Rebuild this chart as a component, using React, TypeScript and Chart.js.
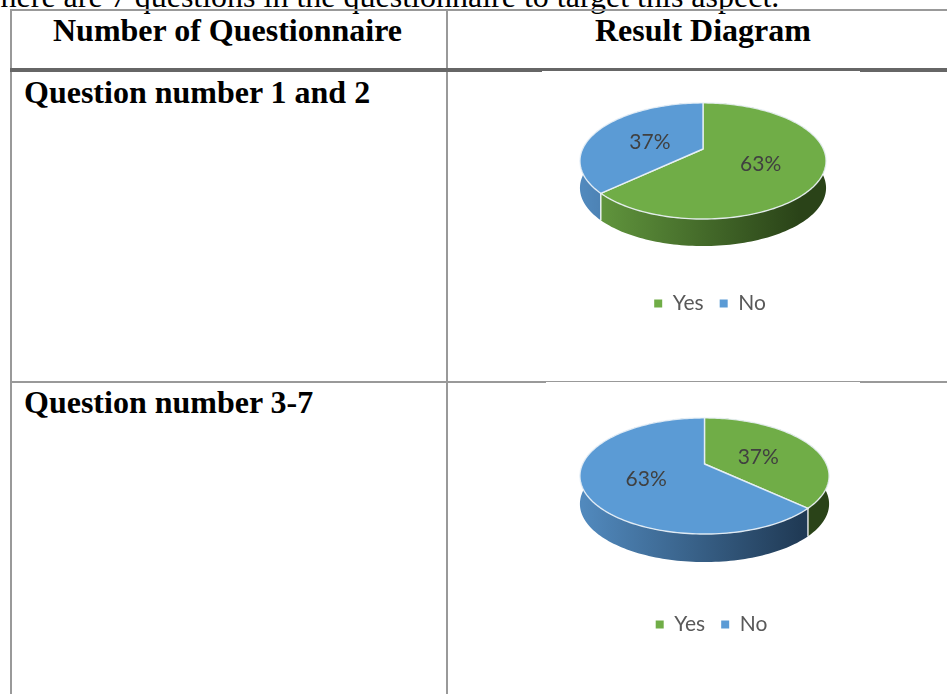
import React, { useEffect, useRef } from "react";
import { Chart, registerables } from "chart.js";

Chart.register(...registerables);

const categories = ["Yes", "No"];
const firstRowValues = [63, 37];
const secondRowValues = [37, 63];
const sliceColors = ["#70AD47", "#5B9BD5"];
const sideLight = ["#659C40", "#5189BD"];
const sideDark = ["#2A4318", "#203A55"];
const introText = "There are 7 questions in the questionnaire to target this aspect.";
const headerLeft = "Number of Questionnaire";
const headerRight = "Result Diagram";
const rowLabels = ["Question number 1 and 2", "Question number 3-7"];

// Perspective projection of a flat disc, in multiples of the library's radius.
const RADIUS = 60;
const K = 0.206;
const UI_FONT = "Lato";

type Tilt = { sx: number; sy: number; depth: number; legendShift: number };

function project(el: any, tilt: Tilt, theta: number, rho = 1) {
  const u = Math.sin(theta) * rho;
  const v = -Math.cos(theta) * rho;
  const w = 1 - K * v;
  return { x: el.x + (tilt.sx * RADIUS * u) / w, y: el.y + (tilt.sy * RADIUS * v) / w };
}

function arcPoints(el: any, tilt: Tilt) {
  const a0 = el.startAngle + Math.PI / 2;
  const a1 = el.endAngle + Math.PI / 2;
  const n = Math.max(8, Math.ceil((a1 - a0) * 40));
  const pts = [];
  for (let i = 0; i <= n; i++) pts.push(project(el, tilt, a0 + ((a1 - a0) * i) / n));
  return pts;
}

const pie3d = {
  id: "pie3d",
  afterLayout(chart: any, _a: any, opts: any) {
    chart.legend.left += opts.legendShift;
    chart.legend.right += opts.legendShift;
  },
  beforeDatasetsDraw(chart: any, _a: any, opts: any) {
    const { ctx } = chart;
    const tilt: Tilt = opts;
    const els = chart.getDatasetMeta(0).data;
    ctx.save();
    els.forEach((el: any, i: number) => {
      const pts = arcPoints(el, tilt);
      const left = el.x - tilt.sx * RADIUS;
      const right = el.x + tilt.sx * RADIUS;
      const g = ctx.createLinearGradient(left, 0, right, 0);
      g.addColorStop(0, sideLight[i]);
      g.addColorStop(0.9, sideDark[i]);
      g.addColorStop(1, sideDark[i]);
      ctx.beginPath();
      pts.forEach((p: any, j: number) => (j ? ctx.lineTo(p.x, p.y) : ctx.moveTo(p.x, p.y)));
      for (let j = pts.length - 1; j >= 0; j--) ctx.lineTo(pts[j].x, pts[j].y + tilt.depth);
      ctx.closePath();
      ctx.fillStyle = g;
      ctx.fill();
    });
    els.forEach((el: any) => {
      const p = project(el, tilt, el.startAngle + Math.PI / 2);
      if (p.y > el.y) {
        ctx.beginPath();
        ctx.moveTo(p.x, p.y);
        ctx.lineTo(p.x, p.y + tilt.depth);
        ctx.strokeStyle = "rgba(255,255,255,0.85)";
        ctx.lineWidth = 1.5;
        ctx.stroke();
      }
    });
    ctx.restore();
    // The library's own wedges are drawn flattened, under the projected surface.
    ctx.save();
    const first = els[0];
    ctx.translate(first.x, first.y);
    ctx.scale(tilt.sx * 0.95, tilt.sy * 0.8);
    ctx.translate(-first.x, -first.y);
  },
  afterDatasetsDraw(chart: any, _a: any, opts: any) {
    const { ctx } = chart;
    ctx.restore();
    const tilt: Tilt = opts;
    const meta = chart.getDatasetMeta(0);
    const values = chart.data.datasets[0].data;
    ctx.save();
    meta.data.forEach((el: any, i: number) => {
      const pts = arcPoints(el, tilt);
      ctx.beginPath();
      ctx.moveTo(el.x, el.y);
      pts.forEach((p: any) => ctx.lineTo(p.x, p.y));
      ctx.closePath();
      ctx.fillStyle = sliceColors[i];
      ctx.fill();
      ctx.strokeStyle = "rgba(236,243,248,0.9)";
      ctx.lineWidth = 1.4;
      ctx.lineJoin = "round";
      ctx.stroke();
    });
    meta.data.forEach((el: any, i: number) => {
      const mid = (el.startAngle + el.endAngle) / 2 + Math.PI / 2;
      const p = project(el, tilt, mid, 0.5);
      ctx.font = `21px ${UI_FONT}`;
      ctx.fillStyle = "#404040";
      ctx.textAlign = "center";
      ctx.textBaseline = "middle";
      ctx.fillText(`${values[i]}%`, p.x, p.y + 4);
    });
    ctx.restore();
  },
};

function Pie3D(props: {
  values: number[];
  style: { left: number; top: number; width: number; height: number };
  tilt: Tilt;
}) {
  const ref = useRef<HTMLCanvasElement>(null);
  useEffect(() => {
    const chart = new Chart(ref.current as HTMLCanvasElement, {
      type: "pie",
      data: {
        labels: categories,
        datasets: [{ data: props.values, backgroundColor: sliceColors, borderWidth: 0, radius: RADIUS }],
      },
      options: {
        animation: false,
        responsive: false,
        maintainAspectRatio: false,
        plugins: {
          tooltip: { enabled: false },
          pie3d: props.tilt,
          legend: {
            position: "bottom",
            labels: {
              usePointStyle: true,
              pointStyle: "rect",
              boxHeight: 8,
              boxWidth: 8,
              padding: 16,
              color: "#595959",
              font: { family: UI_FONT, size: 21 },
            },
          },
        },
      } as any,
      plugins: [pie3d as any],
    });
    return () => chart.destroy();
  }, []);
  const s = props.style;
  return (
    <canvas
      ref={ref}
      width={s.width}
      height={s.height}
      style={{ position: "absolute", display: "block", ...s }}
    />
  );
}

const serif = "'Liberation Serif', serif";

function Label(p: { x: number; base: number; size: number; bold?: boolean; children: string }) {
  return (
    <div
      style={{
        position: "absolute",
        left: p.x,
        top: p.base - p.size * 0.891,
        fontFamily: serif,
        fontSize: p.size,
        lineHeight: `${p.size * 1.107}px`,
        fontWeight: p.bold ? 700 : 400,
        color: "#000",
        whiteSpace: "nowrap",
      }}
    >
      {p.children}
    </div>
  );
}

function Rule(p: { x: number; y: number; w: number; h: number; c: string }) {
  return <div style={{ position: "absolute", left: p.x, top: p.y, width: p.w, height: p.h, background: p.c }} />;
}

export default function App() {
  return (
    <div style={{ position: "absolute", left: 0, top: 0, width: 947, height: 694, overflow: "hidden", background: "#fff", filter: "blur(0.35px)" }}>
      <Label x={-19} base={7} size={32}>{introText}</Label>
      <Rule x={10} y={9} w={937} h={2} c="#999" />
      <Rule x={10} y={9} w={2} h={685} c="#999" />
      <Rule x={446} y={9} w={2} h={685} c="#999" />
      <Rule x={10} y={68} w={937} h={4} c="#666" />
      <Rule x={10} y={381} w={937} h={2} c="#999" />
      <Rule x={542} y={71} w={318} h={1} c="#fff" />
      <Rule x={546} y={382} w={314} h={1} c="#fff" />
      <Label x={53} base={42} size={32} bold>{headerLeft}</Label>
      <Label x={595} base={42} size={32} bold>{headerRight}</Label>
      <Label x={24} base={104} size={32} bold>{rowLabels[0]}</Label>
      <Label x={24} base={414} size={32} bold>{rowLabels[1]}</Label>
      <Pie3D
        values={firstRowValues}
        style={{ left: 542, top: 21, width: 322, height: 303 }}
        tilt={{ sx: 2.007, sy: 0.927, depth: 27, legendShift: 7 }}
      />
      <Pie3D
        values={secondRowValues}
        style={{ left: 546, top: 330, width: 317, height: 315 }}
        tilt={{ sx: 2.032, sy: 0.927, depth: 28, legendShift: 7 }}
      />
    </div>
  );
}
